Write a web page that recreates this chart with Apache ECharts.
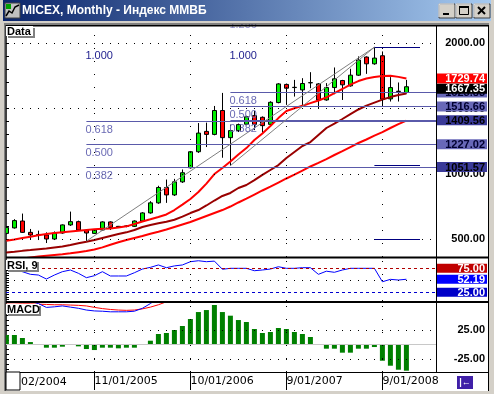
<!DOCTYPE html>
<html><head><meta charset="utf-8">
<script src="https://cdn.jsdelivr.net/npm/echarts@6/dist/echarts.min.js"></script>
<style>html,body{margin:0;padding:0;background:#d4d0c8;overflow:hidden}#c{width:494px;height:394px}</style>
</head><body><div id="c"></div>
<script>
// ---------- data ----------
const openP  = [543,585,638,551,533,531,500,546,608,633,569,543,569,631,592,597,597,638,700,777,895,838,938,1046,1169,1325,1302,1485,1277,1331,1380,1446,1433,1379,1546,1685,1661,1643,1697,1689,1566,1661,1715,1674,1756,1895,1843,1905,1574,1633,1623];
const closeP = [589,641,551,531,535,500,546,608,633,569,546,569,631,589,597,600,638,700,777,895,838,938,1008,1169,1312,1302,1485,1277,1331,1377,1437,1379,1369,1548,1689,1656,1663,1692,1699,1566,1661,1728,1682,1756,1872,1843,1887,1572,1661,1630,1667.35];
const lowP   = [536,580,546,500,492,469,492,540,600,562,483.6,538,563,569,585,590,592,632,694,770,777,830,930,1040,1160,1205,1295,1123,1062.8,1320,1372,1335,1315,1372,1540,1528,1592,1528,1656,1502,1560,1610,1566,1668,1750,1766,1836,1515,1554,1554,1615];
const highP  = [596,652,695,577,564,551,558,612,710,641,575,575,636,636,600,606,643,706,790,908,956,961,1033,1175,1389,1392,1520,1620,1377,1385,1445,1481,1440,1556,1695,1692,1720,1733,1779,1695,1695,1815,1720,1805,1900,1900,1970.5,1938,1741,1700,1720];
const maShort = [487,497,508,518,528,538,546,552,558,564,569,575,578,581,588,597,615,634,651,669,688,722,764,807,860,925,998,1044,1094,1148,1197,1259,1309,1366,1427,1481,1502,1521,1542,1562,1585,1619,1650,1684,1711,1730,1742,1749,1751,1743,1729.74];
const maMid   = [396,402,409,415,422,428,435,442,454,467,479,492,508,523,538,551,569,592,607,620,632,648,672,699,722,757,795,830,853,891,914,952,991,1029,1067,1121,1167,1213,1243,1297,1351,1385,1420,1458,1493,1523,1546,1569,1588,1604,1615];
const maLong  = [331,341,351,358,365,371,377,383,390,399,408,420,436,456,475,492,508,523,540,556,573,592,611,630,653,676,699,722,749,780,810,841,872,902,933,964,994,1025,1056,1084,1113,1144,1174,1205,1236,1263,1293,1320,1351,1381,1408];
const rsi9 = [81,82,68,62.5,61,52.7,61,68,71.5,64.6,55.5,59.6,68,59,59,59,65.8,73.5,77,82,76.3,80,82,88.8,90.8,88.8,90,73,75,75,75,70,71.5,73.5,78.3,75,75,76.3,76.3,62.5,69,66.7,71.5,75,75,75,75,47,52,50.6,52.19];
const macdHist = [16.5,16.5,11.4,4.5,1.1,-5.1,-5.1,-3.4,-0.3,-2.8,-7.4,-9.1,-5.1,-5.1,-6.2,-5.1,-5.1,0.3,6.8,18.2,19.9,25,31.8,43.7,55.6,59,67.6,55.6,49.4,42,38.6,26.7,19.9,21.6,28.4,26.7,21.6,18.2,13.1,0.5,-6.8,-6.8,-13.6,-13.6,-6.8,-6.8,-4,-27.3,-35.8,-42.6,-44.3];
const macdLine   = [85,85,81,74,70,63.5,64.5,66,64,62,59,57.5,57,56,56,56,57,62,70,80];
const macdSignal = [69,69,69.5,69.5,69,68.5,68,68,67.5,67,66,63.5,61.5,60,59,58.5,59,61,64,68,73];
const tickIdx = [11,23,35,47];
const tickLabels = ['11/01/2005','10/01/2006','9/01/2007','9/01/2008'];
const firstTickLabel = '02/2004';
const priceGridVals = [500,1000,1500,2000];
const macdGridVals = [-25,25];
const rsiLevels = [75,25];
const rsiLast = 52.19;
// Fibonacci tools: [index, value] of the low and high anchors
const fibLeftLow = [10,483.6], fibLeftHigh = [46,1970.5];
const fibRightLow = [28,1062.8], fibRightHigh = [46,1970.5];
const fibLeftRatios = [0.382,0.5,0.618];
const fibRightRatios = [0.382,0.5,0.618];
const fibLeftTextRatios = [1.000,0.618,0.500,0.382];
const fibRightTextRatios = [1.256,1.000,0.618,0.500,0.382];
const fibShortRatios = [1.0,0.0,-0.618];
const sideLabels = [1051.57,1227.02,1409.56,1516.66,1623.83,1729.74,1667.35];
const sideLabelKinds = ['navy','slate','navy','slate','slate','red','black'];

// ---------- layout ----------
const X0 = 6, PW = 430, XMIN = -0.05, XMAX = 53.7;
const G = [{top:26,h:231},{top:258,h:43},{top:303,h:69}];
const fibVal = (lo,hi,r) => lo[1] + r*(hi[1]-lo[1]);
const FONT = 'Liberation Sans';
function range(a,b,s){const r=[];for(let v=a;v<=b+1e-9;v+=s)r.push(+v.toFixed(4));return r;}

const chart = echarts.init(document.getElementById('c'));
const xAx = i => ({type:'value',gridIndex:i,min:XMIN,max:XMAX,show:i===2,
  axisLine:{show:false},splitLine:{show:false},
  axisTick:{show:false},
  axisLabel:{show:i===2,customValues:tickIdx,formatter:v=>tickLabels[tickIdx.indexOf(v)]||'',
    align:'left',margin:4,fontFamily:'DejaVu Sans',fontSize:11,color:'#000'}});
function yAx(gi,min,max,pos,ticks,labels){
  return {type:'value',gridIndex:gi,min:min,max:max,position:pos,
    axisLine:{show:pos==='left',lineStyle:{color:'#404040',width:2}},
    splitLine:{show:false},
    axisTick:{show:true,inside:true,length:3,customValues:ticks,lineStyle:{color:'#000'}},
    axisLabel:{show:!!labels,customValues:labels||[],formatter:v=>v.toFixed(2),align:'right',margin:49,
      fontFamily:FONT,fontWeight:'bold',fontSize:11,color:'#000'}};
}
const dotH = {color:'#000',width:1,type:[1,7]};
const dotV = {color:'#000',width:1,type:[1,12]};
const ml = (data) => ({silent:true,symbol:['none','none'],label:{show:false},animation:false,data:data});

const candleData = openP.map((o,i)=>[i,o,closeP[i],lowP[i],highP[i]]);
const toXY = arr => arr.map((v,i)=>[i,v]);

const fibLines = [];
fibLeftRatios.forEach(r=>{const v=fibVal(fibLeftLow,fibLeftHigh,r);fibLines.push([{coord:[fibLeftLow[0],v],lineStyle:{color:'#5a5aaa',width:1,type:'solid'}},{coord:[XMAX,v]}]);});
fibRightRatios.forEach(r=>{const v=fibVal(fibRightLow,fibRightHigh,r);fibLines.push([{coord:[fibRightLow[0],v],lineStyle:{color:'#5a5aaa',width:1,type:'solid'}},{coord:[XMAX,v]}]);});
fibShortRatios.forEach(r=>{const v=fibVal(fibRightLow,fibRightHigh,r);fibLines.push([{coord:[fibRightHigh[0],v],lineStyle:{color:'#000080',width:1,type:'solid'}},{coord:[51.7,v]}]);});
fibLines.push([{coord:fibLeftLow,lineStyle:{color:'#808080',width:1,type:'solid'}},{coord:fibLeftHigh}]);
fibLines.push([{coord:fibRightLow,lineStyle:{color:'#808080',width:1,type:'solid'}},{coord:fibRightHigh}]);

const option = {
  animation:false,
  backgroundColor:'#d4d0c8',
  grid:G.map(g=>({left:X0,top:g.top,width:PW,height:g.h,show:false})),
  xAxis:[xAx(0),xAx(1),xAx(2)],
  yAxis:[
    yAx(0,362,2133,'right',range(400,2100,100),priceGridVals),
    yAx(0,362,2133,'left',range(400,2100,100),null),
    yAx(1,6.9,96.5,'right',range(10,90,5),null),
    yAx(1,6.9,96.5,'left',range(10,90,5),null),
    yAx(2,-46.5,71,'right',range(-41.667,66.667,8.3333),macdGridVals),
    yAx(2,-46.5,71,'left',range(-41.667,66.667,8.3333),null)
  ],
  series:[
    {type:'line',xAxisIndex:0,yAxisIndex:0,data:[],z:1,
     markLine:ml(priceGridVals.map(v=>({yAxis:v,lineStyle:dotH})).concat(tickIdx.map(v=>({xAxis:v,lineStyle:dotV}))))},
    {type:'candlestick',xAxisIndex:0,yAxisIndex:0,data:candleData,barWidth:5,z:3,
     itemStyle:{color:'#00f000',color0:'#ff0000',borderColor:'#000',borderColor0:'#000',borderWidth:1}},
    {type:'line',xAxisIndex:0,yAxisIndex:0,data:toXY(maLong),showSymbol:false,lineStyle:{color:'#ff0000',width:2},z:4},
    {type:'line',xAxisIndex:0,yAxisIndex:0,data:toXY(maMid),showSymbol:false,lineStyle:{color:'#990000',width:2},z:4},
    {type:'line',xAxisIndex:0,yAxisIndex:0,data:toXY(maShort),showSymbol:false,lineStyle:{color:'#ff0000',width:2},z:4},
    {type:'line',xAxisIndex:0,yAxisIndex:0,data:[],z:5,markLine:ml(fibLines)},
    // RSI
    {type:'line',xAxisIndex:1,yAxisIndex:2,data:[],z:1,
     markLine:ml([{yAxis:50,lineStyle:dotH},{yAxis:rsiLevels[0],lineStyle:{color:'#b00000',width:1,type:[3,3]}},
       {yAxis:rsiLevels[1],lineStyle:{color:'#0000d0',width:1,type:[3,3]}}].concat(tickIdx.map(v=>({xAxis:v,lineStyle:dotV}))))},
    {type:'line',xAxisIndex:1,yAxisIndex:2,data:toXY(rsi9),showSymbol:false,lineStyle:{color:'#0000ff',width:1},z:4},
    // MACD
    {type:'line',xAxisIndex:2,yAxisIndex:4,data:[],z:1,
     markLine:ml([{yAxis:0,lineStyle:{color:'#c8c8c8',width:1,type:'solid'}}].concat(macdGridVals.map(v=>({yAxis:v,lineStyle:dotH}))).concat(tickIdx.map(v=>({xAxis:v,lineStyle:dotV}))))},
    {type:'bar',xAxisIndex:2,yAxisIndex:4,data:toXY(macdHist),barWidth:5,itemStyle:{color:'#008000'},z:3},
    {type:'line',xAxisIndex:2,yAxisIndex:4,data:toXY(macdSignal),showSymbol:false,lineStyle:{color:'#ff0000',width:1},z:4},
    {type:'line',xAxisIndex:2,yAxisIndex:4,data:toXY(macdLine),showSymbol:false,lineStyle:{color:'#0000ff',width:1},z:4}
  ]
};
chart.setOption(option);

// ---------- decorations ----------
const px = v => chart.convertToPixel({xAxisIndex:0,yAxisIndex:0},[0,v])[1];
const pxR = v => chart.convertToPixel({xAxisIndex:1,yAxisIndex:2},[0,v])[1];
const pxX = i => chart.convertToPixel({xAxisIndex:0,yAxisIndex:0},[i,1000])[0];
const g = [];
g.push({type:'rect',z:-1,shape:{x:5,y:24,width:484,height:367},style:{fill:'#ffffff'}});
// fib labels
const fibTxt = (x,v,t,col)=>g.push({type:'text',z:6,x:x,y:px(v)+3,style:{text:t,fill:col,font:'11px '+FONT,textVerticalAlign:'top'}});
fibLeftTextRatios.forEach(r=>fibTxt(pxX(fibLeftLow[0])-1,fibVal(fibLeftLow,fibLeftHigh,r),r.toFixed(3),r===1?'#1c1c8c':'#6a6ab4'));
fibRightTextRatios.forEach(r=>fibTxt(pxX(fibRightLow[0])-1,fibVal(fibRightLow,fibRightHigh,r),r.toFixed(3),r===1?'#1c1c8c':(r>1?'#9090cc':'#6a6ab4')));
// title bar and window frame
g.push({type:'rect',z:90,shape:{x:0,y:0,width:494,height:24},style:{fill:'#d4d0c8'}});
g.push({type:'rect',z:91,shape:{x:3,y:0,width:488,height:21},style:{fill:new echarts.graphic.LinearGradient(0,0,1,0,[{offset:0,color:'#0a246a'},{offset:1,color:'#a6caf0'}])}});
g.push({type:'rect',z:92,shape:{x:5,y:3,width:15,height:15},style:{fill:'#c0c0c0',stroke:'#404040'}});
g.push({type:'polyline',z:93,shape:{points:[[6,16],[9,11],[12,13],[15,7],[19,5]]},style:{stroke:'#000',lineWidth:1.5,fill:null}});
g.push({type:'rect',z:93,shape:{x:6,y:4,width:5,height:5},style:{fill:'#00a000'}});
g.push({type:'text',z:93,x:22,y:11,style:{text:'MICEX, Monthly - Индекс ММВБ',fill:'#fff',font:'bold 12px '+FONT,textVerticalAlign:'middle'}});
[439,456,474].forEach((bx,k)=>{
  g.push({type:'rect',z:93,shape:{x:bx,y:4,width:16,height:14},style:{fill:'#d4d0c8',stroke:'#404040'}});
  g.push({type:'polyline',z:94,shape:{points:[[bx,17],[bx,4],[bx+15,4]]},style:{stroke:'#fff',fill:null}});
  if(k===0) g.push({type:'rect',z:95,shape:{x:bx+4,y:13,width:6,height:2},style:{fill:'#000'}});
  if(k===1){g.push({type:'rect',z:95,shape:{x:bx+3.5,y:6.5,width:9,height:8},style:{fill:null,stroke:'#000'}});g.push({type:'rect',z:95,shape:{x:bx+3,y:6,width:10,height:2},style:{fill:'#000'}});}
  if(k===2){g.push({type:'line',z:95,shape:{x1:bx+4,y1:7,x2:bx+11,y2:14},style:{stroke:'#000',lineWidth:2}});g.push({type:'line',z:95,shape:{x1:bx+11,y1:7,x2:bx+4,y2:14},style:{stroke:'#000',lineWidth:2}});}
});
g.push({type:'rect',z:90,shape:{x:0,y:0,width:5,height:394},style:{fill:'#d4d0c8'}});
g.push({type:'rect',z:90,shape:{x:489,y:0,width:5,height:394},style:{fill:'#d4d0c8'}});
g.push({type:'rect',z:90,shape:{x:0,y:391,width:494,height:3},style:{fill:'#d4d0c8'}});
g.push({type:'line',z:91,shape:{x1:4.5,y1:24,x2:4.5,y2:391},style:{stroke:'#808080'}});
g.push({type:'line',z:91,shape:{x1:4,y1:23.5,x2:489,y2:23.5},style:{stroke:'#808080'}});
// panel borders
[[25.5,2],[257.5,2],[302,2],[372.5,1]].forEach(([y,w])=>g.push({type:'line',z:60,shape:{x1:5,y1:y,x2:489,y2:y},style:{stroke:'#000',lineWidth:w}}));
g.push({type:'line',z:60,shape:{x1:436.5,y1:25,x2:436.5,y2:373},style:{stroke:'#000'}});
g.push({type:'line',z:60,shape:{x1:488.5,y1:25,x2:488.5,y2:391},style:{stroke:'#000'}});
g.push({type:'line',z:60,shape:{x1:5.5,y1:25,x2:5.5,y2:391},style:{stroke:'#404040',lineWidth:1}});
// x tick marks in the date row
tickIdx.forEach(i=>{const x=Math.round(pxX(i))+0.5;g.push({type:'line',z:60,shape:{x1:x,y1:373,x2:x,y2:390},style:{stroke:'#000'}});});
// panel title boxes
const tbox=(x,y,w,h,t)=>{g.push({type:'rect',z:61,shape:{x:x+2,y:y+2,width:w,height:h},style:{fill:'#808080'}});
  g.push({type:'rect',z:62,shape:{x:x,y:y,width:w,height:h},style:{fill:'#fff'}});
  g.push({type:'text',z:63,x:x+1,y:y+h/2+0.5,style:{text:t,fill:'#000',font:'bold 11px '+FONT,textVerticalAlign:'middle'}});};
tbox(6,26,27,10,'Data'); tbox(6,260,31,10,'RSI, 9'); tbox(6,304,33,10,'MACD');
// right side value labels
const kindStyle={navy:['#3a3a98','#000'],slate:['#6868b8','#000030'],red:['#ff0000','#fff'],black:['#000','#fff']};
const order=[4,0,1,2,3,5,6];
order.forEach(k=>{const v=sideLabels[k];let y=px(v);if(sideLabelKinds[k]==='black')y+=2;
  const st=kindStyle[sideLabelKinds[k]];
  g.push({type:'rect',z:70+k,shape:{x:437,y:y-5,width:50,height:10},style:{fill:st[0]}});
  g.push({type:'text',z:70+k,x:485,y:y+0.5,style:{text:v.toFixed(2),fill:st[1],font:'bold 11px '+FONT,textAlign:'right',textVerticalAlign:'middle'}});});
const rsiLab=[[rsiLevels[0],'#c00000'],[rsiLast,'#0000ff'],[rsiLevels[1],'#0000c8']];
rsiLab.forEach(([v,c])=>{const y=pxR(v);
  g.push({type:'rect',z:75,shape:{x:437,y:y-4.5,width:50,height:9},style:{fill:c}});
  g.push({type:'text',z:76,x:485,y:y+0.5,style:{text:v.toFixed(2),fill:'#fff',font:'bold 11px '+FONT,textAlign:'right',textVerticalAlign:'middle'}});});
// bottom row
g.push({type:'rect',z:61,shape:{x:6,y:372,width:14,height:18},style:{fill:'#fff',stroke:'#000'}});
g.push({type:'text',z:61,x:21,y:382,style:{text:firstTickLabel,fill:'#000',font:'11px DejaVu Sans',textVerticalAlign:'middle'}});
g.push({type:'rect',z:61,shape:{x:457,y:376,width:16,height:13},style:{fill:'#4020a8'}});
g.push({type:'text',z:62,x:465,y:382.5,style:{text:'|←',fill:'#fff',font:'bold 9px '+FONT,textAlign:'center',textVerticalAlign:'middle'}});
chart.setOption({graphic:g});
</script></body></html>
